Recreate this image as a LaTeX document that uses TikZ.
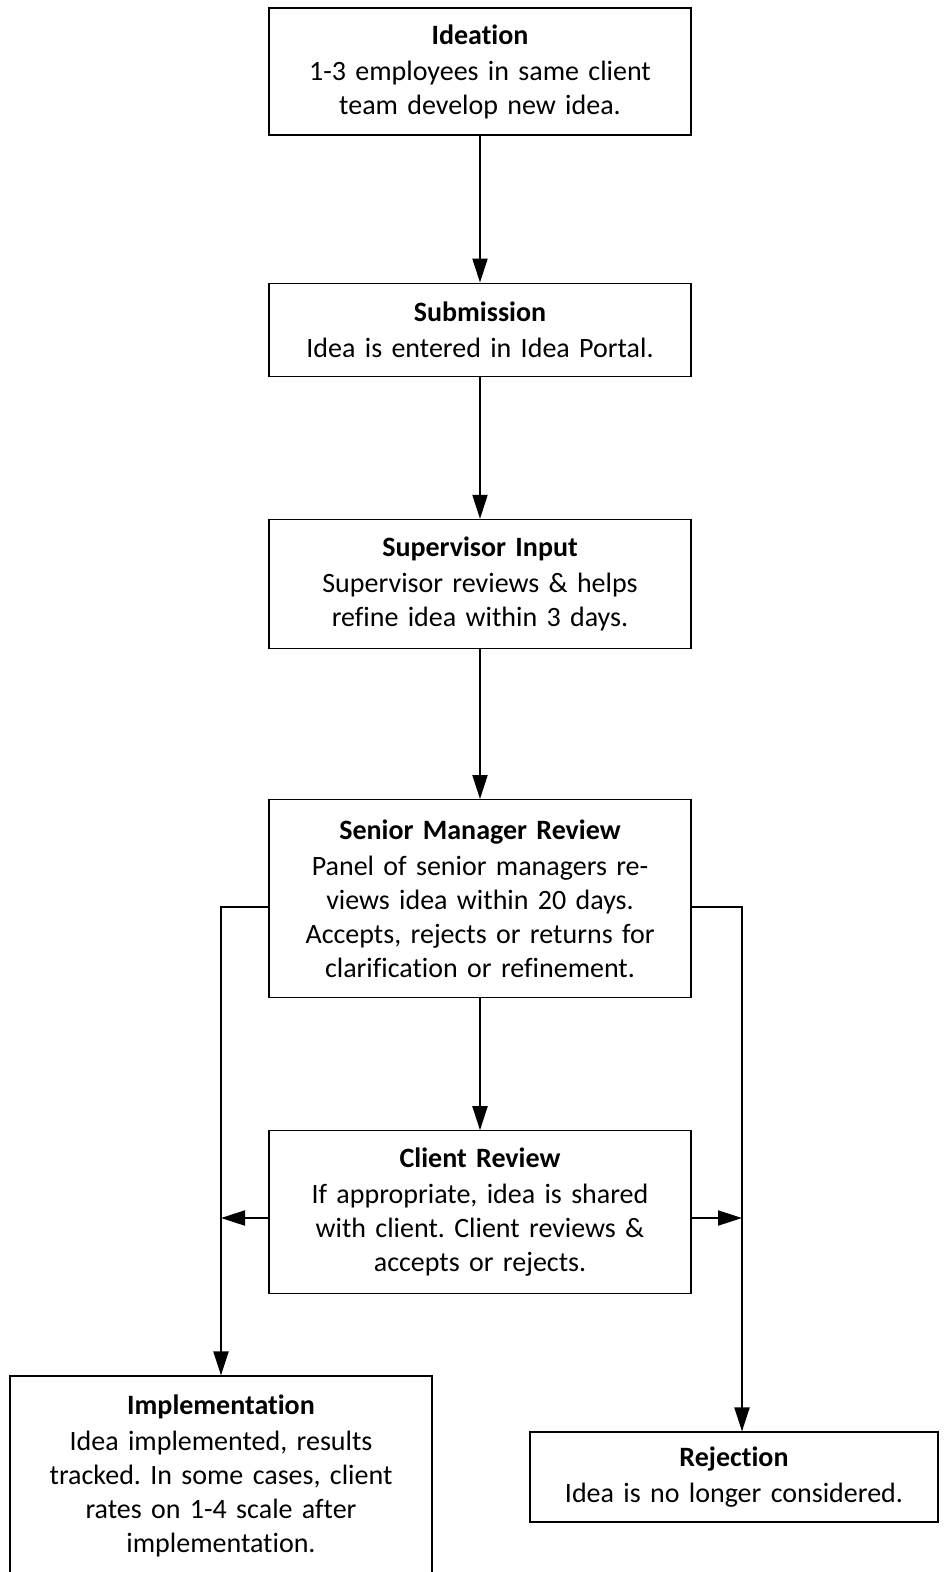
\documentclass[tikz,border=0pt]{standalone}
\usepackage{fontspec}
\setmainfont{Carlito}[Ligatures={NoCommon}]
\usetikzlibrary{arrows.meta, positioning}
\tikzstyle{std} = [rectangle, text width=406pt, inner xsep=8pt, inner ysep=4pt, align=center, draw=black, line width=1.2pt, font=\fontsize{28}{34}\selectfont]
\tikzstyle{arrow} = [line width=2pt,->,>={Triangle[length=24pt,width=15pt]}]

\begin{document}
\frenchspacing
\begin{tikzpicture}[x=1pt, y=-1pt]
      \useasboundingbox (0,0) rectangle (943,1572);

      \node (ideation) [std, minimum height=127pt] at (480,71.5) {\textbf{Ideation}\\[2pt]1-3 employees in same client\\team develop new idea.};
      \node (submission) [std, minimum height=93pt, below=147pt of ideation] {\textbf{Submission}\\[2pt]Idea is entered in Idea Portal.};
      \node (supervisor) [std, minimum height=129pt, below=142pt of submission] {\textbf{Supervisor Input}\\[2pt]Supervisor reviews \& helps\\refine idea within 3 days.};
      \node (senior) [std, minimum height=198pt, below=150pt of supervisor] {\textbf{Senior Manager Review}\\[2pt]Panel of senior managers re-\\views idea within 20 days.\\Accepts, rejects or returns for\\clarification or refinement.};
      \node (client) [std, minimum height=163pt, below=132pt of senior] {\textbf{Client Review}\\[2pt]If appropriate, idea is shared\\with client. Client reviews \&\\accepts or rejects.};

      \node (impl) [std, minimum height=200pt] at (221,1476) {\textbf{Implementation}\\[2pt]Idea implemented, results\\tracked. In some cases, client\\rates on 1-4 scale after\\implementation.};
      \node (reject) [std, text width=392pt, minimum height=90pt] at (734,1477) {\textbf{Rejection}\\[2pt]Idea is no longer considered.};

      \coordinate (lt) at (221,907);
      \coordinate (rt) at (742,907);
      \coordinate (lc) at (221,1218);
      \coordinate (rc) at (742,1218);

      \draw [arrow] (ideation) -- (submission);
      \draw [arrow] (submission) -- (supervisor);
      \draw [arrow] (supervisor) -- (senior);
      \draw [arrow] (senior) -- (client);
      \draw [arrow] (senior.west |- lt) -| (impl.north -| lt);
      \draw [arrow] (senior.east |- rt) -| (reject.north -| rt);
      \draw [arrow] (client.west |- lc) -- (lc);
      \draw [arrow] (client.east |- rc) -- (rc);
    \end{tikzpicture}
\end{document}
